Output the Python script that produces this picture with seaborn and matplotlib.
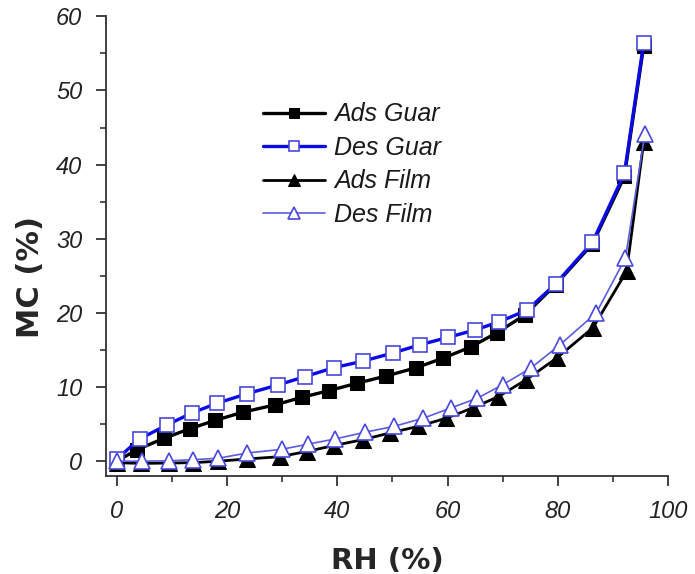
import matplotlib
matplotlib.use("Agg")
import matplotlib.pyplot as plt
import seaborn as sns
from matplotlib.ticker import MultipleLocator

# sorption isotherm data
rh_ads_guar = [0, 3.6, 8.6, 13.3, 17.8, 22.8, 28.7, 33.5, 38.4, 43.5, 48.9,
               54.3, 59.2, 64.2, 68.9, 74.0, 79.6, 86.3, 92.1, 95.6]
mc_ads_guar = [0, 1.55, 3.1, 4.4, 5.5, 6.6, 7.6, 8.6, 9.5, 10.5, 11.5,
               12.6, 13.9, 15.4, 17.3, 19.7, 23.8, 29.3, 38.4, 56.0]

rh_des_guar = [0, 4.1, 9.1, 13.6, 18.1, 23.6, 29.3, 34.1, 39.3, 44.7, 50.1,
               55.0, 60.1, 65.0, 69.4, 74.5, 79.6, 86.3, 92.1, 95.6]
mc_des_guar = [0.3, 3.0, 4.9, 6.5, 7.8, 9.1, 10.3, 11.4, 12.6, 13.5, 14.6,
               15.7, 16.7, 17.7, 18.8, 20.4, 23.9, 29.5, 38.8, 56.4]

rh_ads_film = [0, 4.3, 9.4, 13.8, 18.4, 23.6, 29.5, 34.4, 39.3, 44.6, 49.5,
               54.7, 59.8, 64.6, 69.2, 74.3, 79.8, 86.4, 92.5, 95.6]
mc_ads_film = [-0.2, -0.3, -0.25, -0.2, 0.0, 0.3, 0.6, 1.3, 2.1, 2.9, 3.8,
               4.7, 5.8, 7.2, 8.7, 11.0, 13.9, 18.0, 25.6, 43.0]

rh_des_film = [0, 4.5, 9.4, 13.8, 18.4, 23.6, 29.9, 34.7, 39.6, 45.0, 50.3,
               55.6, 60.7, 65.4, 70.0, 75.2, 80.4, 87.0, 92.3, 95.8]
mc_des_film = [0, 0, 0.05, 0.2, 0.4, 1.1, 1.6, 2.3, 3.0, 3.9, 4.7,
               5.8, 7.2, 8.5, 10.3, 12.6, 15.7, 20.0, 27.4, 44.1]

sns.set_style("ticks")
plt.rcParams['font.family'] = ['Liberation Sans', 'DejaVu Sans']

fig = plt.figure(figsize=(6.95, 5.74), dpi=100)
ax = fig.add_axes([0.1525, 0.1707, 0.8085, 0.8009])

blue = "#0a0ae6"
light_blue = "#5c5ce0"
edge_blue = "#4848dc"

sns.lineplot(x=rh_ads_guar, y=mc_ads_guar, ax=ax, sort=False, color="black",
             linewidth=2.4, marker="s", markersize=10.5, markerfacecolor="black",
             markeredgecolor="black", label="Ads Guar", zorder=2)
sns.lineplot(x=rh_des_guar, y=mc_des_guar, ax=ax, sort=False, color=blue,
             linewidth=2.4, marker="s", markersize=10.5, markerfacecolor="white",
             markeredgecolor=edge_blue, markeredgewidth=1.2,
             label="Des Guar", zorder=3)
sns.lineplot(x=rh_ads_film, y=mc_ads_film, ax=ax, sort=False, color="black",
             linewidth=2.0, marker="^", markersize=11, markerfacecolor="black",
             markeredgecolor="black", label="Ads Film", zorder=4)
sns.lineplot(x=rh_des_film, y=mc_des_film, ax=ax, sort=False, color=light_blue,
             linewidth=1.2, marker="^", markersize=12, markerfacecolor="white",
             markeredgecolor=edge_blue, markeredgewidth=1.2,
             label="Des Film", zorder=5)

ax.set_xlim(-2, 100)
ax.set_ylim(-2, 60)
ax.xaxis.set_major_locator(MultipleLocator(20))
ax.xaxis.set_minor_locator(MultipleLocator(10))
ax.yaxis.set_major_locator(MultipleLocator(10))
ax.yaxis.set_minor_locator(MultipleLocator(5))

sns.despine(ax=ax)
for side in ["left", "bottom"]:
    ax.spines[side].set_linewidth(1.3)
    ax.spines[side].set_color("#333333")

ax.tick_params(which="major", direction="out", length=7, width=1.3,
               color="#333333", labelsize=17, pad=10)
ax.tick_params(which="minor", direction="out", length=4, width=1.2,
               color="#333333")
for lbl in ax.get_xticklabels() + ax.get_yticklabels():
    lbl.set_fontstyle("italic")
    lbl.set_color("#222222")

ax.set_xlabel("RH (%)", fontsize=21, fontweight="bold", family="DejaVu Sans",
              va="center")
ax.set_ylabel("MC (%)", fontsize=22, fontweight="bold", family="DejaVu Sans",
              va="center")
ax.xaxis.set_label_coords(0.5, -0.185)
ax.yaxis.set_label_coords(-0.135, 0.433)

leg = ax.legend(loc="upper left", bbox_to_anchor=(0.279, 0.813), frameon=False,
                prop={"size": 18, "style": "italic"}, handlelength=2.5,
                handletextpad=0.35, labelspacing=0.38, borderaxespad=0,
                borderpad=0, markerscale=0.75)
for t in leg.get_texts():
    t.set_color("#1a1a1a")

fig.savefig("out.png", dpi=100)
